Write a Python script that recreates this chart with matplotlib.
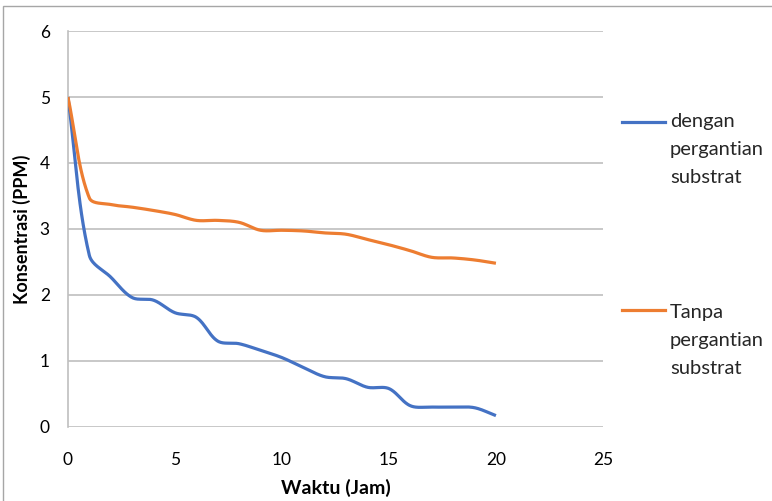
import numpy as np
import matplotlib.pyplot as plt
from matplotlib.lines import Line2D
from matplotlib.patches import Rectangle

plt.rcParams['font.family'] = ['Lato', 'DejaVu Sans']

# Konsentrasi (PPM) per jam
waktu = list(range(0, 21))
dengan_ganti = [5.0, 2.6, 2.27, 1.96, 1.92, 1.73, 1.66, 1.3, 1.26, 1.16, 1.05,
                0.9, 0.76, 0.73, 0.6, 0.58, 0.32, 0.3, 0.3, 0.29, 0.17]
tanpa_ganti = [5.0, 3.47, 3.37, 3.33, 3.28, 3.22, 3.13, 3.13, 3.1, 2.98, 2.98,
               2.97, 2.94, 2.92, 2.84, 2.76, 2.67, 2.57, 2.56, 2.53, 2.48]
labels = ['dengan\npergantian\nsubstrat', 'Tanpa\npergantian\nsubstrat']
colors = ['#4472C4', '#ED7D31']

W, H = 7.72, 5.01
AX_RECT = [0.088, 0.148, 0.693, 0.790]


def smooth(x, y, sx, sy, n=30):
    """Bezier smoothing with control arms scaled by neighbouring segment
    lengths (measured in inches so the knee doesn't overshoot)."""
    P = np.column_stack([np.asarray(x, float) * sx, np.asarray(y, float) * sy])
    m = len(P)
    d = np.linalg.norm(np.diff(P, axis=0), axis=1)
    t = np.linspace(0, 1, n, endpoint=False)[:, None]
    out = []
    for i in range(m - 1):
        p0 = P[max(i - 1, 0)]
        p1, p2 = P[i], P[i + 1]
        p3 = P[min(i + 2, m - 1)]
        dprev = d[i - 1] if i > 0 else d[i]
        dnext = d[i + 1] if i < m - 2 else d[i]
        c1 = p1 + (p2 - p0) * d[i] / (dprev + d[i]) / 3
        c2 = p2 - (p3 - p1) * d[i] / (d[i] + dnext) / 3
        if i == 0:
            c1 = p1 + (p2 - p1) / 3
        if i == m - 2:
            c2 = p2 - (p2 - p1) / 3
        seg = ((1 - t) ** 3 * p1 + 3 * (1 - t) ** 2 * t * c1
               + 3 * (1 - t) * t ** 2 * c2 + t ** 3 * p2)
        out.append(seg)
    out.append(P[-1][None, :])
    out = np.vstack(out)
    return out[:, 0] / sx, out[:, 1] / sy


fig = plt.figure(figsize=(W, H), dpi=100)
ax = fig.add_axes(AX_RECT)
ax.set_xlim(0, 25)
ax.set_ylim(0, 6)

# inches per data unit, for the smoothing
sx = AX_RECT[2] * W / 25
sy = AX_RECT[3] * H / 6
for y, c in zip([dengan_ganti, tanpa_ganti], colors):
    cx, cy = smooth(waktu, y, sx, sy)
    ax.plot(cx, cy, color=c, lw=2.3, solid_capstyle='butt', zorder=3)

ax.set_xticks(range(0, 26, 5))
ax.set_yticks(range(0, 7))
ax.grid(axis='y', color='#BFBFBF', lw=1.2)
ax.set_axisbelow(True)
for s in ['top', 'right', 'bottom']:
    ax.spines[s].set_visible(False)
ax.spines['left'].set_color('#BFBFBF')
ax.spines['left'].set_linewidth(1.2)
ax.tick_params(length=0, labelsize=12.5, colors='#000000')
ax.tick_params(axis='x', pad=18)
ax.tick_params(axis='y', pad=13)
ax.set_xlabel('Waktu (Jam)', fontsize=14, fontweight='bold', labelpad=8)
ax.set_ylabel('Konsentrasi (PPM)', fontsize=13, fontweight='bold', labelpad=6)

# legend on the right, line next to the first text row
row_h = 28 / 501
for lab, c, line_y, base_y in zip(labels, colors, [122, 310], [127, 318]):
    yl = 1 - line_y / 501
    fig.add_artist(Line2D([0.806, 0.861], [yl, yl], color=c, lw=2.3,
                          transform=fig.transFigure))
    yb = 1 - base_y / 501
    for k, part in enumerate(lab.split('\n')):
        fig.text(0.868, yb - k * row_h, part, fontsize=14.5, va='baseline',
                 ha='left', color='#262626')

fig.add_artist(Rectangle((0.004, -0.01), 1.0, 0.999, transform=fig.transFigure,
                         fill=False, edgecolor='#A6A6A6', lw=1.0))

fig.savefig('out.png', dpi=100)
